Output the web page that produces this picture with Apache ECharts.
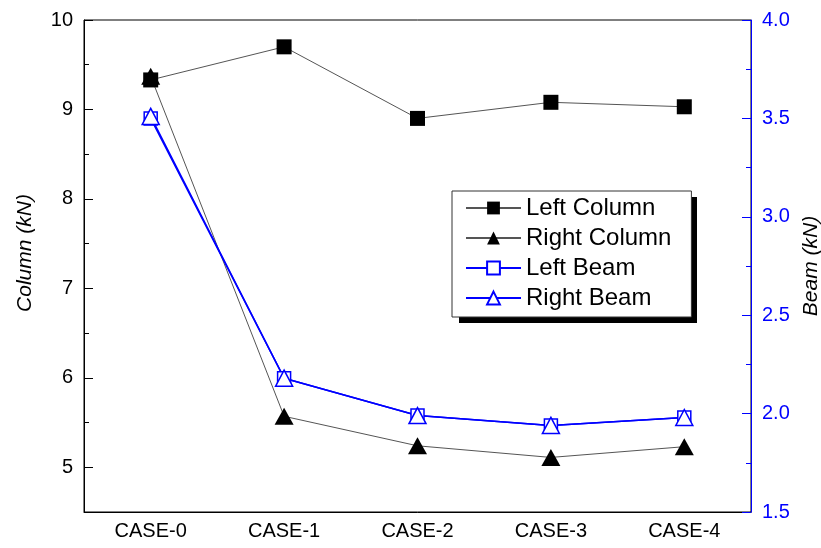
<!DOCTYPE html>
<html>
<head>
<meta charset="utf-8">
<script src="https://cdn.jsdelivr.net/npm/echarts@6/dist/echarts.min.js"></script>
<style>
  html, body { margin: 0; padding: 0; background: #fff; }
  #chart { width: 821px; height: 548px; }
</style>
</head>
<body>
<div id="chart"></div>
<script>
// Load cases on the category axis
const cases = ['CASE-0', 'CASE-1', 'CASE-2', 'CASE-3', 'CASE-4'];

// Column forces (kN), left axis
const leftColumn = [9.33, 9.70, 8.90, 9.08, 9.03];
const rightColumn = [9.37, 5.57, 5.24, 5.11, 5.23];

// Beam forces (kN), right axis
const leftBeam = [3.50, 2.18, 1.99, 1.94, 1.98];
const rightBeam = [3.51, 2.18, 1.99, 1.94, 1.98];

// Tick values of the column axis
const columnMajorTicks = [5, 6, 7, 8, 9, 10];
const columnMinorTicks = [5.5, 6.5, 7.5, 8.5, 9.5];

const FONT = '"Liberation Sans", Arial, sans-serif';
const BLUE = '#0000ff';

const chart = echarts.init(document.getElementById('chart'));

chart.setOption({
  animation: false,
  backgroundColor: '#ffffff',
  textStyle: { fontFamily: FONT },
  grid: {
    left: 84, right: 70, top: 20, bottom: 36,
    containLabel: false,
    outerBoundsMode: 'none',
    show: true, borderColor: '#000', borderWidth: 1, backgroundColor: 'transparent'
  },
  // drop shadow behind the legend box
  graphic: [{
    type: 'rect',
    left: 459, top: 197,
    shape: { width: 238, height: 126 },
    style: { fill: '#000' },
    z: 3
  }],
  legend: {
    orient: 'vertical',
    left: 452, top: 191,
    backgroundColor: '#fff',
    borderColor: '#333',
    borderWidth: 1,
    padding: [5, 20, 7, 13],
    itemWidth: 55,
    itemHeight: 16,
    itemGap: 6,
    z: 4,
    textStyle: { fontFamily: FONT, fontSize: 24, color: '#000' },
    data: ['Left Column', 'Right Column', 'Left Beam', 'Right Beam']
  },
  xAxis: {
    type: 'category',
    data: cases,
    boundaryGap: true,
    axisLine: { lineStyle: { color: '#000', width: 1 } },
    axisTick: { inside: true, alignWithLabel: true, length: 9, lineStyle: { color: '#000' } },
    axisLabel: { color: '#000', fontSize: 20, fontFamily: FONT, margin: 9 },
    splitLine: { show: false }
  },
  yAxis: [
    {
      type: 'value',
      position: 'left',
      min: 4.5, max: 10,
      name: 'Column (kN)',
      nameLocation: 'middle',
      nameGap: 48,
      nameTextStyle: { fontSize: 21, fontStyle: 'italic', color: '#000', fontFamily: FONT, padding: [0, 0, 0, 26] },
      axisLine: { show: true, lineStyle: { color: '#000', width: 1 } },
      axisTick: { show: true, inside: true, length: 9, customValues: columnMajorTicks, lineStyle: { color: '#000' } },
      axisLabel: { color: '#000', fontSize: 20, fontFamily: FONT, margin: 11, customValues: columnMajorTicks },
      splitLine: { show: false }
    },
    {
      type: 'value',
      position: 'right',
      min: 1.5, max: 4, interval: 0.5,
      name: 'Beam (kN)',
      nameLocation: 'middle',
      nameGap: 48,
      nameTextStyle: { fontSize: 21, fontStyle: 'italic', color: '#000', fontFamily: FONT },
      axisLine: { show: true, lineStyle: { color: BLUE, width: 1 } },
      axisTick: { show: true, inside: true, length: 9, lineStyle: { color: BLUE } },
      minorTick: { show: true, splitNumber: 2, length: 5, lineStyle: { color: BLUE } },
      axisLabel: { color: BLUE, fontSize: 20, fontFamily: FONT, margin: 11, formatter: v => v.toFixed(1) },
      splitLine: { show: false },
      minorSplitLine: { show: false }
    },
    {
      // half-unit minor ticks on the column axis
      type: 'value',
      position: 'left',
      min: 4.5, max: 10,
      axisLine: { show: false },
      axisTick: { show: true, inside: true, length: 5, customValues: columnMinorTicks, lineStyle: { color: '#000' } },
      axisLabel: { show: false },
      splitLine: { show: false }
    }
  ],
  series: [
    {
      name: 'Left Column',
      type: 'line',
      yAxisIndex: 0,
      data: leftColumn,
      symbol: 'rect',
      symbolSize: 15,
      lineStyle: { color: '#555', width: 1 },
      itemStyle: { color: '#000', borderColor: '#000', borderWidth: 0 },
      z: 2
    },
    {
      name: 'Right Column',
      type: 'line',
      yAxisIndex: 0,
      data: rightColumn,
      symbol: 'triangle',
      symbolSize: [19, 17],
      lineStyle: { color: '#555', width: 1 },
      itemStyle: { color: '#000', borderColor: '#000', borderWidth: 0 },
      z: 2
    },
    {
      name: 'Left Beam',
      type: 'line',
      yAxisIndex: 1,
      data: leftBeam,
      symbol: 'rect',
      symbolSize: 13,
      lineStyle: { color: BLUE, width: 1.5 },
      itemStyle: { color: '#fff', borderColor: BLUE, borderWidth: 1.5 },
      z: 2
    },
    {
      name: 'Right Beam',
      type: 'line',
      yAxisIndex: 1,
      data: rightBeam,
      symbol: 'triangle',
      symbolSize: [17, 16],
      lineStyle: { color: BLUE, width: 1.5 },
      itemStyle: { color: '#fff', borderColor: BLUE, borderWidth: 1.5 },
      z: 2
    }
  ]
});
</script>
</body>
</html>
